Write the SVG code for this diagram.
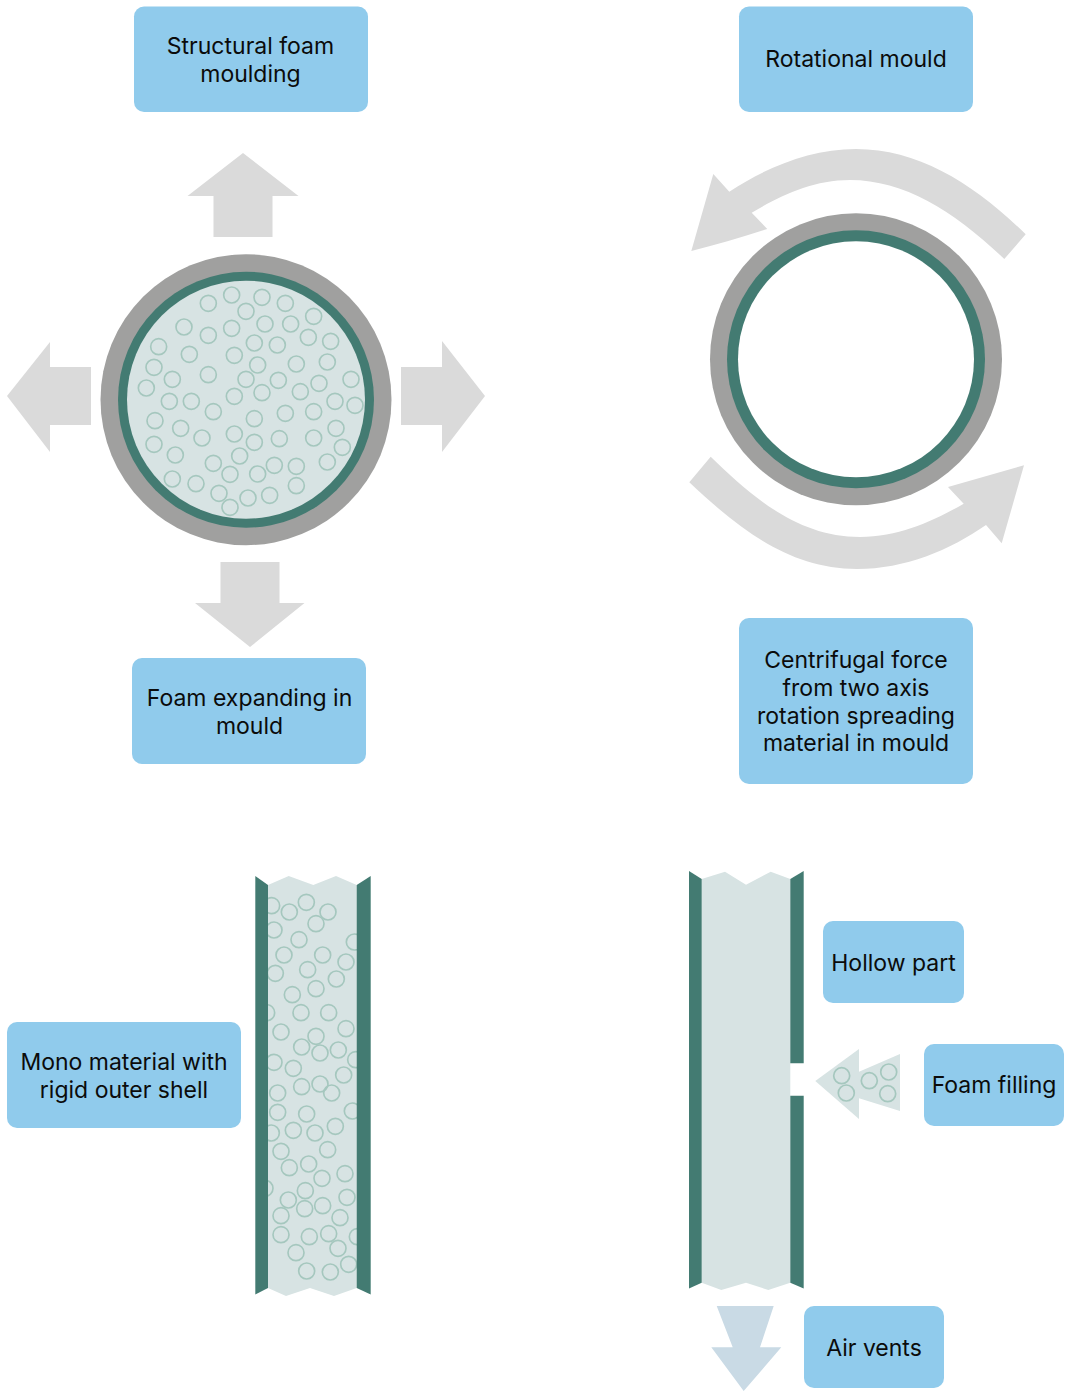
<svg xmlns="http://www.w3.org/2000/svg" width="1069" height="1391" viewBox="0 0 1069 1391">
<style>
.box{fill:#90cbec}
.t{font-family:Inter,"Liberation Sans",sans-serif;font-size:23px;fill:#0b0b0b;text-anchor:middle}
.arrow{fill:#dadada}
.gray{fill:#a0a09f}
.teal{fill:#437b72}
.light{fill:#d7e3e3}
.b circle{fill:none;stroke:#a5c7be;stroke-width:5;r:24px}
.f circle{fill:none;stroke:#a5c7be;stroke-width:1.7;r:8px}
</style>
<defs>
<clipPath id="panelClip"><rect x="268" y="870" width="89" height="430"/></clipPath>
<clipPath id="discClip"><circle cx="246" cy="399.7" r="119"/></clipPath>
</defs>
<rect width="1069" height="1391" fill="#fff"/>

<g id="connectors">
<polygon class="arrow" points="243,153 298.5,196 272.5,196 272.5,237 213.5,237 213.5,196 187.5,196"/>
<polygon class="arrow" points="7,396 50,342 50,367 91,367 91,425 50,425 50,452"/>
<polygon class="arrow" points="485,396 442,341 442,367 401,367 401,425 442,425 442,452"/>
<polygon class="arrow" points="220.5,562 279.5,562 279.5,603 304.5,603 250,647 195,603 220.5,603"/>
<path class="arrow" d="M1025.7 234.3C975 185 920 149 856 149C810 149 765 168 729.3 191.7L713.3 174L691.3 251C716 245 742 237 767.3 229L751.7 212.7C780 196 812 180 850 180C905 180 955 212 1004.3 259Z"/>
<path class="arrow" d="M710.7 456.7C755 500 800 537 860 537C900 537 935 520 963.7 503.7L948 487L1024 465.3L1001.7 543.3L986 525C950 550 905 569 857 569C790 569 740 530 689.3 482.3Z"/>
<polygon points="716.7,1306 773.7,1306 760,1347.3 781.3,1347.3 743.7,1391 711.3,1347.3 732.7,1347.3" fill="#c9dae5"/>
</g>

<g id="foam-disc">
<circle class="gray" cx="246" cy="399.7" r="145.5"/>
<circle class="teal" cx="246" cy="399.7" r="128"/>
<circle class="light" cx="246" cy="399.7" r="119"/>
<g clip-path="url(#discClip)"><g class="b" transform="translate(90 245) scale(.33333)">
<circle cx="355" cy="175"/><circle cx="425" cy="150"/><circle cx="516" cy="157"/><circle cx="586" cy="175"/><circle cx="468" cy="199"/><circle cx="671" cy="214"/><circle cx="282" cy="246"/><circle cx="355" cy="271"/><circle cx="425" cy="250"/><circle cx="525" cy="237"/><circle cx="602" cy="237"/><circle cx="655" cy="277"/><circle cx="722" cy="289"/><circle cx="493" cy="294"/><circle cx="562" cy="300"/><circle cx="206" cy="305"/><circle cx="298" cy="328"/><circle cx="433" cy="331"/><circle cx="503" cy="360"/><circle cx="619" cy="357"/><circle cx="712" cy="351"/><circle cx="192" cy="367"/><circle cx="247" cy="403"/><circle cx="355" cy="389"/><circle cx="468" cy="403"/><circle cx="565" cy="406"/><circle cx="687" cy="415"/><circle cx="783" cy="403"/><circle cx="169" cy="429"/><circle cx="238" cy="469"/><circle cx="304" cy="469"/><circle cx="433" cy="454"/><circle cx="516" cy="443"/><circle cx="631" cy="440"/><circle cx="735" cy="469"/><circle cx="795" cy="481"/><circle cx="195" cy="527"/><circle cx="370" cy="500"/><circle cx="493" cy="521"/><circle cx="586" cy="505"/><circle cx="671" cy="500"/><circle cx="272" cy="550"/><circle cx="336" cy="579"/><circle cx="433" cy="567"/><circle cx="493" cy="592"/><circle cx="568" cy="581"/><circle cx="671" cy="579"/><circle cx="738" cy="550"/><circle cx="192" cy="598"/><circle cx="256" cy="630"/><circle cx="449" cy="633"/><circle cx="757" cy="607"/><circle cx="370" cy="655"/><circle cx="420" cy="688"/><circle cx="503" cy="687"/><circle cx="553" cy="661"/><circle cx="619" cy="664"/><circle cx="712" cy="651"/><circle cx="247" cy="702"/><circle cx="318" cy="716"/><circle cx="387" cy="745"/><circle cx="474" cy="759"/><circle cx="539" cy="751"/><circle cx="619" cy="722"/><circle cx="420" cy="787"/>
</g></g>
</g>

<g id="hollow-disc">
<circle class="gray" cx="856" cy="359.3" r="146"/>
<circle class="teal" cx="856" cy="359.3" r="129"/>
<circle cx="856" cy="359.3" r="118" fill="#fff"/>
</g>

<g id="foam-panel">
<polygon class="light" points="268,885 288.7,876 313.3,885 336,876 356.7,885 356.7,1288 334,1296 310,1288 286,1296 268,1288"/>
<g clip-path="url(#panelClip)">
<g class="b" transform="translate(240 865) scale(.33333)">
<circle cx="95" cy="122"/><circle cx="148" cy="141"/><circle cx="199" cy="112"/><circle cx="264" cy="141"/><circle cx="228" cy="176"/><circle cx="102" cy="195"/><circle cx="177" cy="224"/><circle cx="343" cy="231"/><circle cx="132" cy="270"/><circle cx="248" cy="270"/><circle cx="106" cy="325"/><circle cx="203" cy="314"/><circle cx="318" cy="291"/><circle cx="289" cy="342"/><circle cx="157" cy="389"/><circle cx="228" cy="371"/><circle cx="80" cy="443"/><circle cx="183" cy="443"/><circle cx="266" cy="443"/><circle cx="123" cy="501"/><circle cx="318" cy="491"/><circle cx="228" cy="514"/><circle cx="185" cy="546"/><circle cx="240" cy="564"/><circle cx="295" cy="555"/><circle cx="102" cy="592"/><circle cx="160" cy="610"/><circle cx="347" cy="584"/><circle cx="311" cy="630"/>
</g>
<g class="b" transform="translate(240 1080) scale(.33333)">
<circle cx="185" cy="20"/><circle cx="240" cy="12"/><circle cx="275" cy="39"/><circle cx="113" cy="39"/><circle cx="113" cy="97"/><circle cx="200" cy="102"/><circle cx="337" cy="93"/><circle cx="94" cy="159"/><circle cx="160" cy="151"/><circle cx="225" cy="159"/><circle cx="286" cy="139"/><circle cx="123" cy="214"/><circle cx="263" cy="209"/><circle cx="148" cy="263"/><circle cx="206" cy="252"/><circle cx="246" cy="295"/><circle cx="315" cy="281"/><circle cx="75" cy="325"/><circle cx="196" cy="332"/><circle cx="145" cy="360"/><circle cx="194" cy="386"/><circle cx="248" cy="377"/><circle cx="321" cy="352"/><circle cx="123" cy="407"/><circle cx="300" cy="413"/><circle cx="123" cy="464"/><circle cx="208" cy="470"/><circle cx="266" cy="461"/><circle cx="352" cy="470"/><circle cx="294" cy="505"/><circle cx="168" cy="518"/><circle cx="200" cy="573"/><circle cx="271" cy="576"/><circle cx="326" cy="553"/>
</g>
</g>
<polygon class="teal" points="255.3,876 268,885 268,1288 255.3,1294.5"/>
<polygon class="teal" points="370.7,876 356.7,885 356.7,1288 370.7,1294.5"/>
</g>

<g id="hollow-panel">
<polygon class="light" points="701.7,879 725,871.7 746,884.7 770.7,871.7 790.3,879 790.3,1282.7 768.3,1290 746,1282.7 721.3,1290 701.7,1282.7"/>
<polygon class="teal" points="689,871 701.7,879 701.7,1282.7 689,1288.5"/>
<polygon class="teal" points="803.7,871 790.3,879 790.3,1063.3 803.7,1063.3"/>
<polygon class="teal" points="790.3,1095.7 803.7,1095.7 803.7,1288.5 790.3,1282.7"/>
</g>

<g id="foam-arrow">
<polygon class="light" points="815.3,1081 859,1049 859,1071.7 900,1054 900,1111 859,1098.3 859,1119"/>
<g class="f"><circle cx="841.7" cy="1075.7"/><circle cx="846.3" cy="1093"/><circle cx="869.3" cy="1080.7"/><circle cx="888.7" cy="1072"/><circle cx="887.7" cy="1093.7"/></g>
</g>

<g id="label-structural"><rect class="box" x="134" y="6.5" width="234" height="105.5" rx="10"/><text class="t" x="250.5" y="54">Structural foam</text><text class="t" x="250.5" y="82">moulding</text></g>
<g id="label-expanding"><rect class="box" x="132" y="658" width="234" height="106" rx="10"/><text class="t" x="249.5" y="706">Foam expanding in</text><text class="t" x="249.5" y="734">mould</text></g>
<g id="label-rotational"><rect class="box" x="739" y="6.5" width="234" height="105.5" rx="10"/><text class="t" x="856" y="67">Rotational mould</text></g>
<g id="label-centrifugal"><rect class="box" x="739" y="618" width="234" height="166" rx="10"/><text class="t" x="856" y="668">Centrifugal force</text><text class="t" x="856" y="696">from two axis</text><text class="t" x="856" y="724">rotation spreading</text><text class="t" x="856" y="751">material in mould</text></g>
<g id="label-mono"><rect class="box" x="7" y="1022" width="234" height="106" rx="10"/><text class="t" x="124" y="1070">Mono material with</text><text class="t" x="124" y="1098">rigid outer shell</text></g>
<g id="label-hollow"><rect class="box" x="823" y="921" width="141" height="82" rx="10"/><text class="t" x="893.5" y="971">Hollow part</text></g>
<g id="label-filling"><rect class="box" x="924" y="1044" width="140" height="82" rx="10"/><text class="t" x="994" y="1093">Foam filling</text></g>
<g id="label-vents"><rect class="box" x="804" y="1306" width="140" height="82" rx="10"/><text class="t" x="874" y="1356">Air vents</text></g>
</svg>
